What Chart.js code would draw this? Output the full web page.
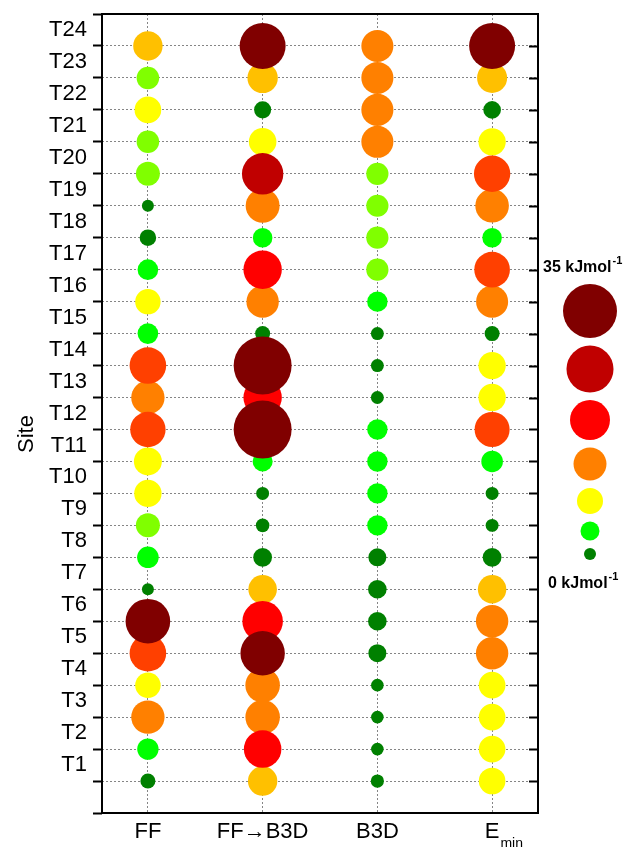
<!DOCTYPE html>
<html>
<head>
<meta charset="utf-8">
<script src="https://cdn.jsdelivr.net/npm/chart.js@4"></script>
<style>
  html, body { margin: 0; padding: 0; background: #fff; }
  #wrap { width: 629px; height: 847px; }
</style>
</head>
<body>
<div id="wrap"><canvas id="chart" width="629" height="847"></canvas></div>
<script>
// categories (x) and sites (y, bottom row first)
const methods = ['FF', 'FF\u2192B3D', 'B3D', 'E_min'];
const sites = ['T1', 'T2', 'T3', 'T4', 'T5', 'T6', 'T7', 'T8', 'T9', 'T10', 'T11', 'T12',
               'T13', 'T14', 'T15', 'T16', 'T17', 'T18', 'T19', 'T20', 'T21', 'T22', 'T23', 'T24'];

const ffValues    = [2.5, 7.8, 17.8, 11.2, 20.5, 27.2, 0, 8.0, 10.0, 12.8, 13.3, 19.5,
                     17.8, 20.5, 7.2, 11.2, 7.2, 3.8, 0, 10.0, 8.8, 12.2, 8.8, 14.5];
const ffB3dValues = [14.5, 21.3, 18.8, 18.8, 27.0, 23.8, 13.8, 5.7, 1.3, 0.8, 6.7, 38.3,
                     22.0, 38.3, 2.5, 17.0, 22.0, 6.3, 18.3, 24.5, 13.0, 4.2, 15.3, 28.3];
const b3dValues   = [1.0, 0.5, 0.5, 0.5, 5.0, 5.5, 5.5, 5.0, 7.0, 7.0, 7.0, 7.0,
                     0.8, 0.8, 0.8, 7.0, 8.5, 8.5, 8.5, 8.5, 16.7, 16.7, 16.7, 16.7];
const eminValues  = [12.2, 12.2, 12.2, 12.2, 17.0, 17.0, 13.7, 5.7, 0.8, 0.8, 8.0, 19.2,
                     12.8, 12.8, 2.5, 16.7, 19.7, 6.3, 18.0, 20.3, 12.8, 4.7, 15.0, 28.3];

// size key on the right, top to bottom
const legendValues = [35, 29.2, 23.3, 17.5, 11.7, 5.8, 0];
const legendTopText = '35 kJmol';
const legendBottomText = '0 kJmol';

const FONT = "'Liberation Sans', Arial, sans-serif";
Chart.defaults.font.family = FONT;

// colour bins (upper limit, colour)
const bins = [
  [5.8, '#008000'], [8.2, '#00ff00'], [10.6, '#80ff00'], [13.6, '#ffff00'],
  [15.8, '#ffc000'], [18.9, '#ff8000'], [21, '#ff4000'], [24.2, '#ff0000'],
  [26.5, '#c00000'], [Infinity, '#800000']
];
const legendColors = ['#800000', '#c00000', '#ff0000', '#ff8000', '#ffff00', '#00ff00', '#008000'];

function colorFor(v) {
  for (const [lim, c] of bins) if (v < lim) return c;
}
function radiusFor(v) {
  return 6 + 0.6 * v;
}

const columns = [ffValues, ffB3dValues, b3dValues, eminValues];
const datasets = columns.map((vals, i) => ({
  label: methods[i],
  // smaller bubbles first so the big ones sit on top
  data: vals.map((v, j) => ({ x: i + 1, y: j + 1, v: v })).sort((a, b) => a.v - b.v),
  backgroundColor: ctx => ctx.raw ? colorFor(ctx.raw.v) : '#000',
  radius: ctx => ctx.raw ? radiusFor(ctx.raw.v) : 0,
  borderWidth: 0,
  hoverRadius: 0
}));

const GRID = '#858585';

const extras = {
  id: 'extras',
  afterDraw(chart) {
    const { ctx, chartArea } = chart;
    const xs = chart.scales.x, ys = chart.scales.y;
    ctx.save();

    // right-hand inner ticks
    ctx.strokeStyle = '#000';
    ctx.lineWidth = 2;
    for (let v = 1; v <= sites.length; v++) {
      const y = Math.round(ys.getPixelForValue(v)) + 0.5;
      ctx.beginPath();
      ctx.moveTo(chartArea.right - 9, y);
      ctx.lineTo(chartArea.right, y);
      ctx.stroke();
    }
    // frame
    ctx.strokeRect(chartArea.left, chartArea.top, chartArea.right - chartArea.left, chartArea.bottom - chartArea.top);

    // axis title
    ctx.fillStyle = '#000';
    ctx.font = '22px ' + FONT;
    ctx.textAlign = 'center';
    ctx.textBaseline = 'middle';
    ctx.save();
    ctx.translate(27, 434);
    ctx.rotate(-Math.PI / 2);
    ctx.fillText('Site', 0, 0);
    ctx.restore();

    // subscripts on x labels
    methods.forEach((m, i) => {
      const parts = m.split('_');
      if (parts.length < 2) return;
      ctx.font = '22px ' + FONT;
      const w = ctx.measureText(parts[0]).width;
      ctx.font = '14px ' + FONT;
      ctx.textAlign = 'left';
      ctx.textBaseline = 'alphabetic';
      ctx.fillText(parts[1], xs.getPixelForValue(i + 1) + w / 2 + 1, xs.top + 35);
    });

    // size key
    const cx = chartArea.right + 52;
    let y = 284;
    legendValues.forEach((v, i) => {
      const r = radiusFor(v);
      ctx.beginPath();
      ctx.arc(cx, y + r, r, 0, Math.PI * 2);
      ctx.fillStyle = legendColors[i];
      ctx.fill();
      y += 2 * r + 7.5;
    });
    const unit = (txt, x, base) => {
      ctx.fillStyle = '#000';
      ctx.textAlign = 'left';
      ctx.textBaseline = 'alphabetic';
      ctx.font = 'bold 16px ' + FONT;
      ctx.fillText(txt, x, base);
      const w = ctx.measureText(txt).width;
      ctx.font = 'bold 11px ' + FONT;
      ctx.fillText('-1', x + w + 1, base - 8);
    };
    unit(legendTopText, 543, 271.5);
    unit(legendBottomText, 548, 588);

    ctx.restore();
  }
};

new Chart(document.getElementById('chart'), {
  type: 'bubble',
  data: { datasets },
  options: {
    responsive: false,
    animation: false,
    events: [],
    layout: { autoPadding: false, padding: { top: 14, right: 91, left: 0, bottom: 0 } },
    plugins: { legend: { display: false }, tooltip: { enabled: false } },
    scales: {
      x: {
        type: 'linear',
        min: 0.6,
        max: 4.4,
        afterBuildTicks: s => { s.ticks = methods.map((m, i) => ({ value: i + 1 })); },
        afterFit: s => { s.height = 34; },
        grid: { color: GRID, lineWidth: 1, drawTicks: false },
        border: { display: false, dash: [2, 2] },
        ticks: {
          padding: 6,
          color: '#000',
          font: { size: 22 },
          maxRotation: 0,
          autoSkip: false,
          callback: v => methods[v - 1] ? methods[v - 1].split('_')[0] : ''
        }
      },
      y: {
        type: 'linear',
        min: 0,
        max: 25,
        afterBuildTicks: s => { s.ticks = Array.from({ length: 26 }, (_, i) => ({ value: i })); },
        afterFit: s => { s.width = 102; s.paddingTop = 0; s.paddingBottom = 0; },
        grid: {
          color: ctx => (ctx.tick && (ctx.tick.value === 0 || ctx.tick.value === 25)) ? 'rgba(0,0,0,0)' : GRID,
          lineWidth: 1,
          tickColor: '#000',
          tickLength: 9,
          tickWidth: 2
        },
        border: { display: false, dash: [2, 2] },
        ticks: {
          padding: 6,
          labelOffset: -16,
          color: '#000',
          font: { size: 22 },
          autoSkip: false,
          callback: v => (v >= 1 && v <= sites.length) ? sites[v - 1] : ''
        }
      }
    }
  },
  plugins: [extras]
});
</script>
</body>
</html>
